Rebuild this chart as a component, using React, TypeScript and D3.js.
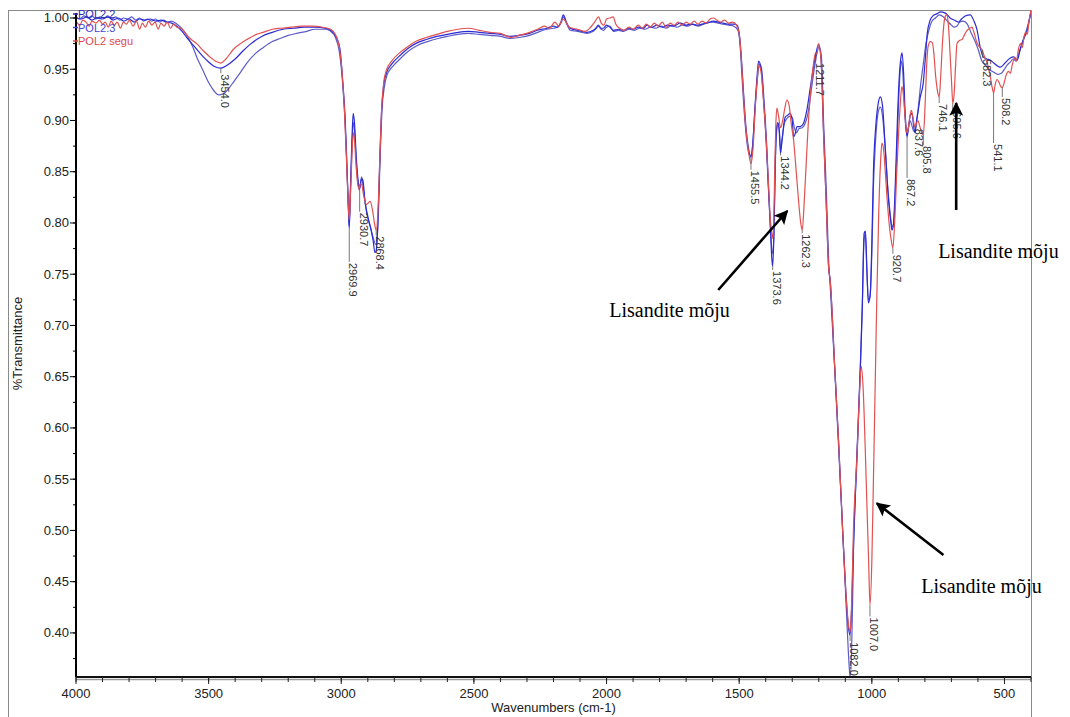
import React from "react";
import * as d3 from "d3";

type Pt = [number, number];

const seriesNames = ["POL2.2", "POL2.3", "POL2 segu"];
const seriesColors = ["#2b2bd6", "#5c5cc8", "#e25050"];
const legendColors = ["#2a2ab4", "#4646d0", "#e04848"];

const pol22: Pt[] = [
  [4000, 1.0], [3980, 0.999], [3960, 1.001], [3940, 0.998], [3920, 1.0], [3900, 0.999], [3880, 1.001],
  [3860, 0.998], [3840, 1.0], [3820, 0.997], [3800, 0.999], [3780, 0.996], [3760, 0.999], [3740, 0.998],
  [3720, 0.999], [3700, 0.997], [3680, 0.998], [3660, 0.996], [3640, 0.995], [3620, 0.992], [3600, 0.987],
  [3580, 0.98], [3560, 0.974], [3540, 0.968], [3520, 0.962], [3500, 0.957], [3480, 0.953], [3454, 0.951],
  [3430, 0.954], [3400, 0.96], [3370, 0.968], [3340, 0.975], [3300, 0.982], [3260, 0.986], [3220, 0.989],
  [3180, 0.99], [3140, 0.991], [3100, 0.991], [3060, 0.99], [3040, 0.988], [3020, 0.982], [3005, 0.97],
  [2995, 0.94], [2985, 0.9], [2978, 0.85], [2972, 0.805], [2969.9, 0.795], [2966, 0.83], [2960, 0.88],
  [2955, 0.907], [2950, 0.897], [2944, 0.866], [2938, 0.845], [2932, 0.833], [2929, 0.836], [2924, 0.843],
  [2919, 0.842], [2910, 0.82], [2900, 0.806], [2890, 0.796], [2880, 0.783], [2873, 0.771], [2868.4, 0.773],
  [2862, 0.8], [2855, 0.86], [2848, 0.91], [2840, 0.935], [2830, 0.946], [2810, 0.955], [2780, 0.963],
  [2750, 0.97], [2720, 0.975], [2680, 0.979], [2640, 0.982], [2600, 0.984], [2560, 0.986], [2520, 0.987],
  [2480, 0.986], [2440, 0.985], [2400, 0.984], [2363, 0.982], [2330, 0.983], [2290, 0.985], [2260, 0.988],
  [2225, 0.99], [2200, 0.992], [2185, 0.991], [2172, 0.996], [2163, 1.003], [2150, 0.995], [2137, 0.99],
  [2110, 0.988], [2074, 0.986], [2050, 0.988], [2040, 0.99], [2031, 0.993], [2020, 0.99], [2012, 0.99],
  [2000, 0.993], [1987, 0.991], [1974, 0.988], [1955, 0.989], [1936, 0.988], [1915, 0.99], [1900, 0.989],
  [1880, 0.991], [1860, 0.99], [1848, 0.993], [1830, 0.991], [1810, 0.993], [1790, 0.991], [1770, 0.993],
  [1750, 0.992], [1722, 0.995], [1700, 0.993], [1680, 0.994], [1660, 0.993], [1640, 0.994], [1620, 0.995],
  [1597, 0.997], [1580, 0.996], [1560, 0.995], [1540, 0.994], [1520, 0.994], [1508, 0.993], [1500, 0.985],
  [1492, 0.962], [1483, 0.925], [1475, 0.895], [1465, 0.873], [1455.5, 0.864], [1449, 0.876], [1440, 0.915],
  [1432, 0.945], [1427, 0.958], [1418, 0.952], [1408, 0.92], [1398, 0.878], [1390, 0.835], [1383, 0.8],
  [1377, 0.765], [1373.6, 0.758], [1369, 0.79], [1364, 0.86], [1360, 0.89], [1355, 0.898], [1350, 0.893],
  [1344.2, 0.868], [1338, 0.882], [1327, 0.903], [1318, 0.905], [1308, 0.907], [1300, 0.9], [1295, 0.884],
  [1288, 0.888], [1282, 0.894], [1270, 0.894], [1258, 0.897], [1245, 0.91], [1232, 0.932], [1220, 0.952],
  [1210, 0.966], [1201, 0.974], [1192, 0.962], [1182, 0.888], [1172, 0.82], [1163, 0.757], [1157, 0.744],
  [1140, 0.66], [1125, 0.585], [1110, 0.5], [1098, 0.44], [1088, 0.405], [1082, 0.398], [1076, 0.425],
  [1069, 0.488], [1056, 0.576], [1043, 0.663], [1036, 0.72], [1029, 0.79], [1024, 0.792], [1018, 0.75],
  [1013, 0.722], [1006, 0.73], [1000, 0.78], [994, 0.85], [985, 0.895], [975, 0.918], [968, 0.923],
  [960, 0.915], [949, 0.871], [937, 0.822], [928, 0.8], [924, 0.793], [918, 0.8], [910, 0.85], [903, 0.905],
  [896, 0.945], [890, 0.962], [886, 0.966], [880, 0.945], [874, 0.905], [870, 0.89], [867.2, 0.884],
  [862, 0.893], [855, 0.905], [849, 0.907], [843, 0.896], [837.6, 0.888], [831, 0.9], [825, 0.91],
  [818, 0.922], [806, 0.937], [797, 0.965], [791, 0.985], [780, 0.998], [770, 1.002], [755, 1.004],
  [740, 1.006], [725, 1.005], [715, 1.003], [705, 1.0], [690, 0.998], [674, 0.996], [662, 0.999],
  [648, 1.002], [629, 1.003], [615, 0.997], [603, 0.988], [592, 0.972], [580, 0.962], [567, 0.96],
  [554, 0.959], [540, 0.956], [525, 0.953], [516, 0.952], [505, 0.954], [495, 0.957], [478, 0.961],
  [465, 0.962], [452, 0.959], [440, 0.97], [430, 0.978], [420, 0.984], [414, 0.988], [408, 0.996], [400, 1.006],
];

const pol23: Pt[] = [
  [4000, 1.001], [3985, 0.999], [3970, 1.002], [3955, 1.0], [3940, 1.002], [3925, 0.999], [3910, 1.001],
  [3895, 1.0], [3880, 1.002], [3865, 0.999], [3850, 1.001], [3835, 0.998], [3820, 1.0], [3805, 0.999],
  [3790, 1.001], [3775, 0.998], [3760, 1.0], [3745, 0.997], [3730, 0.999], [3715, 0.997], [3700, 0.999],
  [3685, 0.996], [3670, 0.998], [3655, 0.996], [3640, 0.997], [3625, 0.995], [3610, 0.992], [3595, 0.988],
  [3580, 0.982], [3560, 0.972], [3545, 0.962], [3520, 0.948], [3500, 0.937], [3480, 0.929], [3462, 0.925],
  [3445, 0.926], [3425, 0.931], [3405, 0.938], [3380, 0.947], [3356, 0.956], [3325, 0.965], [3295, 0.971],
  [3260, 0.977], [3231, 0.98], [3200, 0.983], [3168, 0.985], [3130, 0.987], [3100, 0.989], [3060, 0.989],
  [3040, 0.987], [3022, 0.981], [3008, 0.968], [2996, 0.94], [2986, 0.9], [2978, 0.85], [2972, 0.808],
  [2969.9, 0.797], [2966, 0.825], [2960, 0.872], [2955, 0.898], [2950, 0.89], [2944, 0.862], [2938, 0.842],
  [2932, 0.832], [2928, 0.838], [2923, 0.845], [2918, 0.836], [2908, 0.816], [2898, 0.803], [2888, 0.794],
  [2878, 0.784], [2870, 0.779], [2866, 0.782], [2860, 0.81], [2853, 0.868], [2846, 0.912], [2838, 0.932],
  [2828, 0.944], [2805, 0.953], [2775, 0.961], [2745, 0.968], [2715, 0.973], [2675, 0.977], [2635, 0.98],
  [2600, 0.982], [2560, 0.984], [2520, 0.985], [2480, 0.984], [2440, 0.983], [2400, 0.982], [2363, 0.98],
  [2330, 0.981], [2290, 0.983], [2260, 0.986], [2225, 0.989], [2200, 0.99], [2185, 0.991], [2170, 0.996],
  [2163, 1.001], [2150, 0.994], [2137, 0.988], [2110, 0.987], [2074, 0.985], [2050, 0.987], [2040, 0.99],
  [2031, 0.992], [2020, 0.989], [2012, 0.988], [2000, 0.991], [1987, 0.992], [1974, 0.987], [1955, 0.988],
  [1936, 0.987], [1915, 0.989], [1895, 0.988], [1875, 0.99], [1855, 0.989], [1835, 0.991], [1815, 0.99],
  [1795, 0.992], [1775, 0.99], [1755, 0.993], [1735, 0.991], [1715, 0.993], [1695, 0.992], [1675, 0.994],
  [1655, 0.992], [1635, 0.994], [1615, 0.996], [1597, 0.996], [1580, 0.995], [1560, 0.994], [1540, 0.993],
  [1520, 0.992], [1505, 0.988], [1497, 0.975], [1490, 0.945], [1480, 0.905], [1470, 0.877], [1462, 0.867],
  [1455.5, 0.866], [1449, 0.877], [1440, 0.913], [1430, 0.944], [1425, 0.955], [1416, 0.951], [1406, 0.918],
  [1396, 0.875], [1388, 0.825], [1380, 0.785], [1374, 0.77], [1369, 0.79], [1364, 0.855], [1360, 0.885],
  [1353, 0.897], [1348, 0.888], [1344, 0.872], [1339, 0.88], [1330, 0.897], [1320, 0.902], [1310, 0.904],
  [1300, 0.903], [1292, 0.893], [1284, 0.888], [1275, 0.892], [1262, 0.893], [1250, 0.898], [1240, 0.908],
  [1228, 0.93], [1216, 0.952], [1206, 0.967], [1199, 0.972], [1190, 0.962], [1182, 0.9], [1172, 0.835],
  [1163, 0.765], [1155, 0.73], [1140, 0.658], [1125, 0.58], [1110, 0.5], [1100, 0.445], [1092, 0.4],
  [1086, 0.37], [1082, 0.357], [1076, 0.385], [1069, 0.48], [1056, 0.57], [1043, 0.66], [1036, 0.715],
  [1030, 0.78], [1025, 0.79], [1019, 0.755], [1013, 0.725], [1007, 0.728], [1000, 0.77], [994, 0.835],
  [986, 0.88], [976, 0.908], [968, 0.913], [960, 0.905], [950, 0.875], [940, 0.835], [932, 0.812],
  [925, 0.798], [920, 0.796], [914, 0.815], [907, 0.86], [900, 0.912], [894, 0.945], [889, 0.958],
  [884, 0.95], [878, 0.918], [872, 0.893], [867, 0.886], [862, 0.893], [856, 0.9], [850, 0.896],
  [843, 0.89], [838, 0.889], [832, 0.898], [825, 0.912], [816, 0.935], [806, 0.955], [796, 0.975],
  [786, 0.987], [775, 0.996], [760, 1.0], [745, 1.003], [730, 1.001], [715, 0.997], [700, 0.993],
  [690, 0.991], [680, 0.992], [668, 0.996], [655, 0.997], [640, 0.994], [625, 0.985], [612, 0.978],
  [600, 0.97], [585, 0.958], [572, 0.954], [558, 0.95], [540, 0.947], [525, 0.945], [512, 0.946],
  [500, 0.95], [490, 0.954], [478, 0.957], [468, 0.96], [455, 0.958], [445, 0.966], [435, 0.974],
  [425, 0.982], [415, 0.99], [405, 1.0], [400, 1.006],
];

const pol2segu: Pt[] = [
  [4000, 0.997], [3985, 0.993], [3975, 0.998], [3962, 0.996], [3950, 0.992], [3940, 0.997], [3925, 0.995],
  [3912, 0.998], [3900, 0.994], [3890, 0.996], [3878, 0.991], [3868, 0.997], [3855, 0.993], [3845, 0.996],
  [3832, 0.99], [3822, 0.996], [3810, 0.994], [3798, 0.998], [3785, 0.992], [3772, 0.997], [3760, 0.989],
  [3750, 0.995], [3738, 0.991], [3726, 0.997], [3714, 0.993], [3702, 0.996], [3690, 0.989], [3680, 0.995],
  [3668, 0.992], [3656, 0.996], [3644, 0.99], [3632, 0.994], [3620, 0.991], [3605, 0.99], [3590, 0.986],
  [3570, 0.98], [3545, 0.975], [3520, 0.968], [3495, 0.962], [3475, 0.958], [3454, 0.956], [3435, 0.96],
  [3408, 0.969], [3380, 0.975], [3356, 0.979], [3320, 0.984], [3295, 0.986], [3260, 0.989], [3230, 0.99],
  [3190, 0.991], [3150, 0.992], [3110, 0.992], [3070, 0.991], [3040, 0.989], [3025, 0.985], [3010, 0.975],
  [2998, 0.95], [2988, 0.91], [2980, 0.86], [2974, 0.82], [2969.9, 0.803], [2965, 0.83], [2960, 0.865],
  [2955, 0.888], [2950, 0.88], [2944, 0.855], [2938, 0.838], [2933, 0.833], [2929, 0.838], [2924, 0.838],
  [2915, 0.826], [2905, 0.818], [2891, 0.821], [2882, 0.812], [2875, 0.8], [2868.4, 0.793], [2862, 0.81],
  [2855, 0.86], [2848, 0.91], [2840, 0.937], [2830, 0.949], [2810, 0.958], [2780, 0.966], [2750, 0.972],
  [2720, 0.977], [2680, 0.981], [2640, 0.984], [2600, 0.987], [2560, 0.989], [2520, 0.99], [2480, 0.988],
  [2440, 0.986], [2400, 0.985], [2360, 0.981], [2330, 0.983], [2290, 0.986], [2260, 0.989], [2235, 0.992],
  [2215, 0.99], [2195, 0.996], [2180, 0.992], [2165, 0.999], [2155, 0.997], [2140, 0.991], [2110, 0.989],
  [2080, 0.987], [2060, 0.991], [2045, 0.996], [2030, 1.001], [2020, 0.995], [2010, 0.993], [2000, 0.999],
  [1987, 1.0], [1975, 1.001], [1965, 0.994], [1950, 0.99], [1935, 0.988], [1915, 0.991], [1900, 0.989],
  [1880, 0.993], [1865, 0.99], [1850, 0.994], [1835, 0.991], [1820, 0.995], [1805, 0.992], [1790, 0.996],
  [1775, 0.991], [1760, 0.995], [1745, 0.993], [1730, 0.996], [1715, 0.993], [1700, 0.996], [1685, 0.994],
  [1670, 0.997], [1655, 0.994], [1640, 0.997], [1625, 0.995], [1610, 0.999], [1597, 1.0], [1585, 0.998],
  [1570, 0.996], [1555, 0.998], [1540, 0.995], [1525, 0.996], [1510, 0.993], [1500, 0.985], [1492, 0.96],
  [1484, 0.925], [1476, 0.895], [1465, 0.87], [1455.5, 0.858], [1448, 0.872], [1440, 0.91], [1432, 0.94],
  [1427, 0.954], [1418, 0.948], [1408, 0.918], [1398, 0.88], [1390, 0.84], [1383, 0.805], [1376, 0.788],
  [1373.6, 0.785], [1370, 0.8], [1366, 0.85], [1362, 0.895], [1358, 0.912], [1352, 0.905], [1344.2, 0.893],
  [1336, 0.9], [1328, 0.912], [1320, 0.92], [1312, 0.915], [1303, 0.895], [1295, 0.881], [1285, 0.85],
  [1275, 0.818], [1268, 0.8], [1262.3, 0.793], [1256, 0.815], [1248, 0.855], [1240, 0.895], [1230, 0.93],
  [1220, 0.955], [1212, 0.966], [1207, 0.965], [1201, 0.975], [1192, 0.962], [1182, 0.888], [1172, 0.82],
  [1163, 0.757], [1157, 0.744], [1140, 0.66], [1125, 0.585], [1110, 0.5], [1098, 0.44], [1088, 0.408],
  [1082, 0.401], [1076, 0.43], [1069, 0.503], [1056, 0.572], [1048, 0.625], [1040, 0.66], [1033, 0.64],
  [1025, 0.581], [1018, 0.52], [1012, 0.47], [1007, 0.427], [1000, 0.47], [994, 0.549], [987, 0.647],
  [981, 0.73], [974, 0.81], [967, 0.86], [962, 0.878], [955, 0.87], [948, 0.845], [942, 0.822],
  [935, 0.8], [928, 0.785], [920.7, 0.776], [914, 0.8], [906, 0.85], [899, 0.888], [893, 0.915],
  [887, 0.933], [881, 0.925], [875, 0.905], [870, 0.89], [867.2, 0.888], [862, 0.893], [856, 0.905],
  [851, 0.91], [845, 0.903], [840, 0.895], [837.6, 0.894], [832, 0.897], [826, 0.9], [820, 0.895],
  [812, 0.888], [805.8, 0.886], [800, 0.91], [794, 0.95], [788, 0.972], [780, 0.977], [772, 0.976],
  [766, 0.965], [760, 0.945], [752, 0.928], [746.1, 0.923], [741, 0.94], [735, 0.97], [728, 0.995],
  [722, 1.002], [717, 1.003], [712, 0.995], [705, 0.965], [699, 0.935], [695, 0.917], [690, 0.925],
  [684, 0.955], [679, 0.975], [670, 0.978], [660, 0.979], [650, 0.984], [641, 0.988], [630, 0.99],
  [623, 0.991], [614, 0.985], [604, 0.976], [595, 0.972], [585, 0.969], [575, 0.962], [565, 0.956],
  [555, 0.945], [547, 0.933], [541.1, 0.927], [535, 0.935], [528, 0.94], [520, 0.937], [514, 0.933],
  [508.2, 0.932], [502, 0.936], [494, 0.944], [485, 0.948], [478, 0.946], [470, 0.955], [462, 0.961],
  [455, 0.958], [447, 0.97], [440, 0.975], [433, 0.971], [426, 0.982], [420, 0.986], [414, 0.984],
  [408, 0.996], [400, 1.008],
];

// peak labels: text, wavenumber, transmittance of picked point, transmittance where text starts
const peakLabels: [string, number, number, number][] = [
  ["3454.0", 3454, 0.951, 0.946],
  ["2969.9", 2969.9, 0.795, 0.762],
  ["2930.7", 2930.7, 0.832, 0.811],
  ["2868.4", 2868.4, 0.793, 0.788],
  ["1455.5", 1455.5, 0.864, 0.852],
  ["1373.6", 1373.6, 0.758, 0.754],
  ["1344.2", 1344.2, 0.868, 0.866],
  ["1262.3", 1262.3, 0.793, 0.79],
  ["1211.7", 1211.7, 0.966, 0.957],
  ["1082.0", 1082, 0.398, 0.392],
  ["1007.0", 1007, 0.427, 0.416],
  ["920.7", 920.7, 0.776, 0.77],
  ["867.2", 867.2, 0.884, 0.844],
  ["837.6", 837.6, 0.894, 0.893],
  ["805.8", 805.8, 0.886, 0.876],
  ["746.1", 746.1, 0.923, 0.917],
  ["695.6", 695, 0.917, 0.91],
  ["582.3", 582.3, 0.969, 0.961],
  ["541.1", 541.1, 0.927, 0.878],
  ["508.2", 508.2, 0.932, 0.923],
];

const annotationText = "Lisandite mõju";
// arrows: [fromWn, fromT, toWn, toT]
const arrows: [number, number, number, number][] = [
  [1579, 0.7346, 1319, 0.8117],
  [682, 0.8127, 682, 0.917],
  [730, 0.4761, 981, 0.5265],
];
// annotation text anchors: [wn, T]
const annotations: [number, number][] = [
  [1990, 0.7083],
  [750, 0.7659],
  [814, 0.439],
];

const xMajor = [4000, 3500, 3000, 2500, 2000, 1500, 1000, 500];
const yMajor = [1.0, 0.95, 0.9, 0.85, 0.8, 0.75, 0.7, 0.65, 0.6, 0.55, 0.5, 0.45, 0.4];

const PL = 76, PR = 1031, PT = 10, PB = 677;

export default function App() {
  const x = d3.scaleLinear().domain([4000, 400]).range([PL, PR]);
  const y = d3.scaleLinear().domain([0.357, 1.0078]).range([PB, PT]);
  const line = d3
    .line<Pt>()
    .x((d) => x(d[0]))
    .y((d) => y(d[1]))
    .curve(d3.curveMonotoneX);

  const xMinor = d3.range(4000, 399, -100);
  const yMinor = d3.range(0.375, 1.01, 0.025);
  const sans = "'Liberation Sans', Arial, sans-serif";
  const serif = "'Liberation Serif', 'Times New Roman', serif";
  const series = [pol23, pol22, pol2segu];
  const seriesIdx = [1, 0, 2];

  return (
    <svg
      width={1070}
      height={717}
      style={{ position: "absolute", left: 0, top: 0, background: "#fff" }}
    >
      <defs>
        <clipPath id="plotClip">
          <rect x={PL} y={PT} width={PR - PL} height={PB - PT} />
        </clipPath>
        <marker
          id="arrowHead"
          viewBox="0 0 10 10"
          refX={9}
          refY={5}
          markerUnits="userSpaceOnUse"
          markerWidth={16}
          markerHeight={14}
          orient="auto"
        >
          <path d="M0,0 L10,5 L0,10 L2,5 z" fill="#000" />
        </marker>
      </defs>
      <rect x={0} y={0} width={1070} height={717} fill="#fff" />
      {/* outer frame */}
      <rect x={8.5} y={10.5} width={PR - 8} height={720} fill="none" stroke="#8a8a8a" strokeWidth={1} />

      {/* spectra */}
      <g clipPath="url(#plotClip)">
        {series.map((s, i) => (
          <path
            key={i}
            d={line(s) || ""}
            fill="none"
            stroke={seriesColors[seriesIdx[i]]}
            strokeWidth={1.2}
          />
        ))}
      </g>

      {/* peak labels */}
      <g fontFamily={sans} fontSize={11} fill="#333">
        {peakLabels.map(([t, wn, top, start], i) => (
          <g key={i}>
            <line x1={x(wn)} x2={x(wn)} y1={y(top)} y2={y(start)} stroke="#555" strokeWidth={0.8} />
            <text transform={`translate(${x(wn)},${y(start) + 1}) rotate(90)`} textAnchor="start">
              {t}
            </text>
          </g>
        ))}
      </g>

      {/* y axis */}
      <line x1={PL} x2={PL} y1={PT + 3} y2={PB} stroke="#000" strokeWidth={2} />
      {yMinor.map((v, i) => (
        <line key={"ym" + i} x1={PL - 3} x2={PL} y1={y(v)} y2={y(v)} stroke="#000" strokeWidth={1} />
      ))}
      {yMajor.map((v, i) => (
        <g key={"yM" + i}>
          <line x1={PL - 6} x2={PL} y1={y(v)} y2={y(v)} stroke="#000" strokeWidth={1} />
          <text x={PL - 7} y={y(v) + 4.5} textAnchor="end" fontFamily={sans} fontSize={13} fill="#222">
            {v.toFixed(2)}
          </text>
        </g>
      ))}

      {/* x axis */}
      <line x1={PL} x2={PR} y1={PB + 2.5} y2={PB + 2.5} stroke="#9a9a9a" strokeWidth={1.5} />
      <line x1={PL} x2={PR} y1={PB} y2={PB} stroke="#111" strokeWidth={2.2} />
      {xMinor.map((v, i) => (
        <line key={"xm" + i} x1={x(v)} x2={x(v)} y1={PB} y2={PB + 5} stroke="#222" strokeWidth={1} />
      ))}
      {xMajor.map((v, i) => (
        <g key={"xM" + i}>
          <line x1={x(v)} x2={x(v)} y1={PB} y2={PB + 7} stroke="#222" strokeWidth={1} />
          <text x={x(v)} y={PB + 21} textAnchor="middle" fontFamily={sans} fontSize={13} fill="#222">
            {v}
          </text>
        </g>
      ))}
      <text x={(PL + PR) / 2} y={712} textAnchor="middle" fontFamily={sans} fontSize={13} fill="#222">
        Wavenumbers (cm-1)
      </text>
      <text
        transform={`translate(22,${(PT + PB) / 2}) rotate(-90)`}
        textAnchor="middle"
        fontFamily={sans}
        fontSize={13}
        fill="#222"
      >
        %Transmittance
      </text>

      {/* legend */}
      {seriesNames.map((n, i) => (
        <g key={"lg" + i}>
          <line x1={PL - 3} x2={PL + 2} y1={14 + i * 13.5} y2={14 + i * 13.5} stroke={legendColors[i]} strokeWidth={1.5} />
          <text x={PL + 2} y={18 + i * 13.5} fontFamily={sans} fontSize={11} fill={legendColors[i]}>
            {n}
          </text>
        </g>
      ))}

      {/* annotations */}
      {arrows.map(([w1, t1, w2, t2], i) => (
        <line
          key={"ar" + i}
          x1={x(w1)}
          y1={y(t1)}
          x2={x(w2)}
          y2={y(t2)}
          stroke="#000"
          strokeWidth={2.6}
          markerEnd="url(#arrowHead)"
        />
      ))}
      {annotations.map(([wn, t], i) => (
        <text key={"an" + i} x={x(wn)} y={y(t)} fontFamily={serif} fontSize={20} fill="#000">
          {annotationText}
        </text>
      ))}
    </svg>
  );
}
